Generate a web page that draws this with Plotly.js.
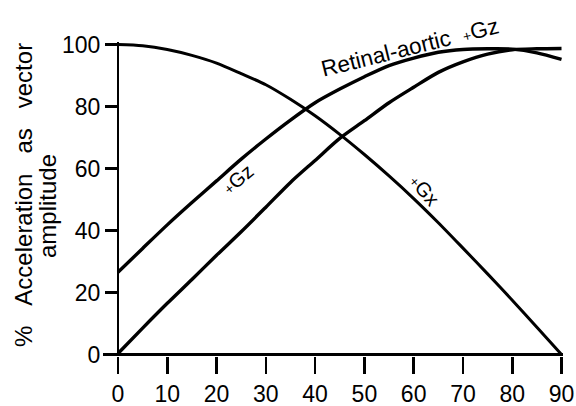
<!DOCTYPE html>
<html>
<head>
<meta charset="utf-8">
<script src="https://cdn.plot.ly/plotly-3.0.1.min.js"></script>
<style>
  html, body { margin: 0; padding: 0; background: #fff; }
  #chart { width: 576px; height: 406px; }
</style>
</head>
<body>
<div id="chart"></div>
<script>
// Vector angle (degrees) and resulting acceleration amplitude (%)
const angle = [0, 5, 10, 15, 20, 25, 30, 35, 40, 45, 50, 55, 60, 65, 70, 75, 80, 85, 90];
const gx = [100, 99.6, 98.4, 96.5, 94, 90.6, 87, 82.3, 77, 71, 64.5, 57.6, 50.3, 42.5, 34.3, 26, 17.5, 8.8, 0];
const gz = [0.3, 8.5, 16.5, 24.2, 32, 39.6, 47.5, 55.5, 62.6, 69.7, 75.4, 81.2, 86.2, 91, 94.4, 96.9, 98.3, 98.6, 98.7];
const retinalAortic = [26.5, 34.2, 41.8, 49, 56, 63, 69.5, 75.6, 81.2, 85.6, 89.6, 93.2, 95.6, 97.5, 98.4, 98.6, 98.5, 97.3, 95.2];

const xTickVals = [0, 10, 20, 30, 40, 50, 60, 70, 80, 90];
const yTickVals = [0, 20, 40, 60, 80, 100];

const FONT = 'Liberation Sans, Arial, Helvetica, sans-serif';
const INK = '#000';

const xRange = [-3.04, 90.3];
const yRange = [-0.5, 100.8];
// the vertical axis sits at angle = 0, inside the extended horizontal range
const yAxisPos = (0 - xRange[0]) / (xRange[1] - xRange[0]);

function curve(yVals, w) {
  return {
    x: angle, y: yVals, type: 'scatter', mode: 'lines',
    line: { color: INK, width: w, shape: 'spline', smoothing: 0.8 },
    hoverinfo: 'skip', showlegend: false
  };
}

const traces = [curve(gx, 3.0), curve(gz, 3.4), curve(retinalAortic, 3.4)];

const nb = '\u00A0';
const gap = nb.repeat(3);
const small = s => '<span style="font-size:14px">' + s + '</span>';

// paper-coordinate helpers for the side title (plot area: x 103..563, y 42..356 px)
const px = v => (v - 103) / 460;
const py = v => (356 - v) / 314;

const annotations = [
  { xref: 'paper', yref: 'paper', x: px(23), y: py(195),
    text: '%' + gap + 'Acceleration' + gap + 'as' + gap + 'vector',
    textangle: -90, showarrow: false, xanchor: 'center', yanchor: 'middle',
    font: { family: FONT, size: 24, color: INK } },
  { xref: 'paper', yref: 'paper', x: px(47), y: py(206),
    text: 'amplitude',
    textangle: -90, showarrow: false, xanchor: 'center', yanchor: 'middle',
    font: { family: FONT, size: 24, color: INK } },
  { x: 59.3, y: 99.0, text: 'Retinal-aortic' + nb + nb + small('+') + 'Gz',
    textangle: -14, showarrow: false, xanchor: 'center', yanchor: 'middle',
    font: { family: FONT, size: 22.5, color: INK } },
  { x: 24.3, y: 56.5, text: small('+') + 'Gz',
    textangle: -40, showarrow: false, xanchor: 'center', yanchor: 'middle',
    font: { family: FONT, size: 20, color: INK } },
  { x: 62.2, y: 53.2, text: small('+') + 'Gx',
    textangle: 50, showarrow: false, xanchor: 'center', yanchor: 'middle',
    font: { family: FONT, size: 20, color: INK } }
];

const layout = {
  width: 576, height: 406,
  margin: { l: 103, r: 13, t: 42, b: 50, pad: 0 },
  paper_bgcolor: '#fff', plot_bgcolor: '#fff',
  showlegend: false,
  xaxis: {
    range: xRange, tickvals: xTickVals, ticktext: xTickVals.map(String),
    showgrid: false, showline: false,
    zeroline: true, zerolinecolor: INK, zerolinewidth: 2.8,
    ticks: 'outside', ticklen: 17, tickwidth: 2.6, tickcolor: INK,
    tickfont: { family: FONT, size: 23, color: INK }
  },
  yaxis: {
    range: yRange, tickvals: yTickVals, ticktext: yTickVals.map(String),
    anchor: 'free', position: yAxisPos,
    showgrid: false, showline: false,
    zeroline: true, zerolinecolor: INK, zerolinewidth: 2.8,
    ticks: 'outside', ticklen: 13, tickwidth: 2.6, tickcolor: INK,
    tickfont: { family: FONT, size: 23, color: INK }
  },
  annotations: annotations
};

Plotly.newPlot('chart', traces, layout, { staticPlot: true, displayModeBar: false });
</script>
</body>
</html>
